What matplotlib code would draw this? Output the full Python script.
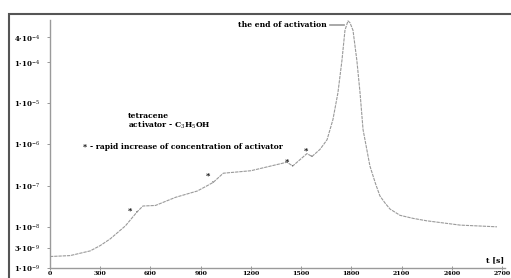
import numpy as np
import matplotlib
matplotlib.use("Agg")
import matplotlib.pyplot as plt
from matplotlib.patches import Rectangle

# concentration vs time
time_s = [0, 120, 240, 300, 360, 450, 520, 555, 630, 750, 880, 940, 975, 1035,
          1200, 1415, 1450, 1535, 1565, 1613, 1655, 1690, 1720, 1744, 1762,
          1780, 1792, 1810, 1833, 1852, 1870, 1911, 1945, 1971, 2001, 2031,
          2091, 2170, 2250, 2450, 2670]
conc = [1.9e-9, 2.0e-9, 2.6e-9, 3.5e-9, 5.1e-9, 1.05e-8, 2.3e-8, 3.2e-8, 3.3e-8,
        5.2e-8, 7.4e-8, 1.0e-7, 1.2e-7, 2.0e-7, 2.3e-7, 3.7e-7, 3.0e-7,
        6.0e-7, 5.1e-7, 7.6e-7, 1.3e-6, 4.0e-6, 1.8e-5, 1.1e-4, 5.9e-4,
        1.0e-3, 9.0e-4, 5.9e-4, 1.1e-4, 1.8e-5, 2.3e-6, 3.0e-7, 1.1e-7,
        5.6e-8, 3.8e-8, 2.7e-8, 1.9e-8, 1.6e-8, 1.4e-8, 1.1e-8, 1.0e-8]

# times where activator concentration was increased rapidly
mark_t = [520, 975, 1450, 1565]

y_ticks = [4e-4, 1e-4, 1e-5, 1e-6, 1e-7, 1e-8, 3e-9, 1e-9]
y_labels = ["4·10$^{-4}$", "1·10$^{-4}$", "1·10$^{-5}$", "1·10$^{-6}$",
            "1·10$^{-7}$", "1·10$^{-8}$", "3·10$^{-9}$", "1·10$^{-9}$"]
x_ticks = [0, 300, 600, 900, 1200, 1500, 1800, 2100, 2400, 2700]

plt.rcParams['font.family'] = ['DejaVu Serif']
plt.rcParams['mathtext.fontset'] = 'dejavuserif'

fig = plt.figure(figsize=(5.11, 2.78), dpi=100)
ax = fig.add_axes([50 / 511, 10 / 278, 455 / 511, 248 / 278])

ax.plot(time_s, conc, color='#9a9a9a', lw=0.8, ls=(0, (3, 0.8)), clip_on=False)

offsets = [(-5, 1), (-4, 5), (-4, 3), (-4, 4)]
for t, off in zip(mark_t, offsets):
    c = conc[time_s.index(t)]
    ax.annotate('*', xy=(t, c), xytext=off, textcoords='offset points',
                ha='center', va='center', fontsize=6, fontweight='bold',
                arrowprops=dict(arrowstyle='-', color='#555555', lw=0.6,
                                shrinkA=1, shrinkB=0))

ax.set_yscale('log')
ax.set_xlim(0, 2718)
ax.set_ylim(1.1e-9, 1.05e-3)
ax.set_yticks(y_ticks)
ax.set_yticklabels(y_labels)
ax.minorticks_off()
ax.set_xticks(x_ticks)
ax.set_xticklabels([str(v) for v in x_ticks])

for lab in ax.get_yticklabels():
    lab.set_fontsize(5)
    lab.set_fontweight('bold')
for lab in ax.get_xticklabels():
    lab.set_fontsize(4.5)
    lab.set_fontweight('bold')
ax.tick_params(axis='y', direction='out', length=2, width=0.6, color='#888888', pad=5)
ax.tick_params(axis='x', direction='inout', length=3, width=0.6, color='#888888', pad=0.5)

for side in ['top', 'right']:
    ax.spines[side].set_visible(False)
for side in ['left', 'bottom']:
    ax.spines[side].set_color('#9a9a9a')
    ax.spines[side].set_linewidth(1.0)

# text annotations (figure pixel positions from the picture)
def fig_text(x, y, s, **kw):
    fig.text(x / 511, 1 - y / 278, s, fontsize=5.5, fontweight='bold', va='center', **kw)

fig_text(128, 116, "tetracene")
fig_text(128, 125, "activator - C$_3$H$_5$OH")
fig_text(83, 147, "*")
fig_text(90, 147, "- rapid increase of concentration of activator")
fig_text(238, 25, "the end of activation")
fig_text(486, 260, "t [s]")
fig.add_artist(plt.Line2D([330 / 511, 344 / 511], [1 - 25 / 278, 1 - 25 / 278],
                          color='#999999', lw=1.2))

# outer frame of the original scan
fig.add_artist(Rectangle((9 / 511, -0.2), 1.5, 1.2 - 14 / 278,
                         transform=fig.transFigure, fill=False,
                         ec='#555555', lw=1.5))

fig.savefig("out.png", dpi=100)
